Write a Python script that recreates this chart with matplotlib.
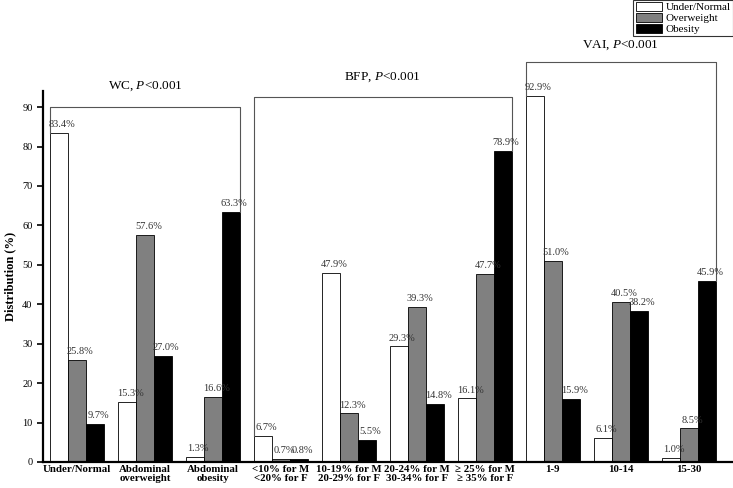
import matplotlib
matplotlib.use("Agg")
import matplotlib.pyplot as plt
import numpy as np
from matplotlib.patches import Patch

plt.rcParams['font.family'] = ['Liberation Serif', 'DejaVu Serif']
plt.rcParams['mathtext.fontset'] = 'custom'
plt.rcParams['mathtext.rm'] = 'Liberation Serif'
plt.rcParams['mathtext.it'] = 'Liberation Serif:italic'

# categories (x groups)
categories = ["Under/Normal", "Abdominal\noverweight", "Abdominal\nobesity",
              "<10% for M\n<20% for F", "10-19% for M\n20-29% for F",
              "20-24% for M\n30-34% for F", "\u2265 25% for M\n\u2265 35% for F",
              "1-9", "10-14", "15-30"]
series_names = ["Under/Normal", "Overweight", "Obesity"]
under_normal = [83.4, 15.3, 1.3, 6.7, 47.9, 29.3, 16.1, 92.9, 6.1, 1.0]
overweight = [25.8, 57.6, 16.6, 0.7, 12.3, 39.3, 47.7, 51.0, 40.5, 8.5]
obesity = [9.7, 27.0, 63.3, 0.8, 5.5, 14.8, 78.9, 15.9, 38.2, 45.9]

# groups of categories with their test label
group_titles = ["WC, $P$<0.001", "BFP, $P$<0.001", "VAI, $P$<0.001"]
group_spans = [(0, 2), (3, 6), (7, 9)]
bracket_tops = [90, 92.6, 101.5]
title_heights = [95.3, 97.6, 105.8]

colors = ['white', '#808080', 'black']
values = [under_normal, overweight, obesity]

fig = plt.figure(figsize=(7.33, 4.88), dpi=100)
ax = fig.add_axes([0.0587, 0.0533, 0.941, 0.7596])

x = np.arange(len(categories))
w = 0.265
for k, (vals, c) in enumerate(zip(values, colors)):
    pos = x + (k - 1) * w
    ax.bar(pos, vals, width=w, color=c, edgecolor='black', linewidth=0.6)
    for xp, v in zip(pos, vals):
        ax.text(xp + 0.05, v + 1.0, f"{v:.1f}%", ha='center', va='bottom',
                fontsize=7.5, color='#333333')

# brackets above each group
for (a, b), top, title, th in zip(group_spans, bracket_tops, group_titles, title_heights):
    xl = x[a] - 1.5 * w
    xr = x[b] + 1.5 * w
    yl = under_normal[a]
    yr = obesity[b]
    ax.plot([xl, xl, xr, xr], [yl, top, top, yr], color='#555555', lw=0.8,
            clip_on=False)
    ax.text((xl + xr) / 2, th, title, ha='center', va='center', fontsize=9.5,
            clip_on=False)

ax.set_xlim(-0.5, 9.65)
ax.set_ylim(0, 94)
ax.set_yticks(range(0, 100, 10))
ax.tick_params(axis='y', labelsize=7.5, width=1.2, length=4)
ax.tick_params(axis='x', length=0, pad=2)
ax.set_xticks(x)
ax.set_xticklabels(categories, fontsize=7.8, fontweight='bold', linespacing=1.05)
ax.set_ylabel("Distribution (%)", fontsize=9, fontweight='bold', labelpad=4)
for s in ['top', 'right']:
    ax.spines[s].set_visible(False)
ax.spines['left'].set_linewidth(1.6)
ax.spines['bottom'].set_linewidth(1.6)

handles = [Patch(facecolor=c, edgecolor='black', linewidth=0.6, label=n)
           for c, n in zip(colors, series_names)]
leg = fig.legend(handles=handles, loc='upper right', bbox_to_anchor=(1.0, 1.0),
                 fontsize=8, frameon=True, fancybox=False, handlelength=2.4,
                 handleheight=0.85, handletextpad=0.3, labelspacing=0.05,
                 borderpad=0.2, borderaxespad=0.0)
leg.get_frame().set_edgecolor('black')
leg.get_frame().set_linewidth(0.8)

fig.savefig("out.png", dpi=100)
